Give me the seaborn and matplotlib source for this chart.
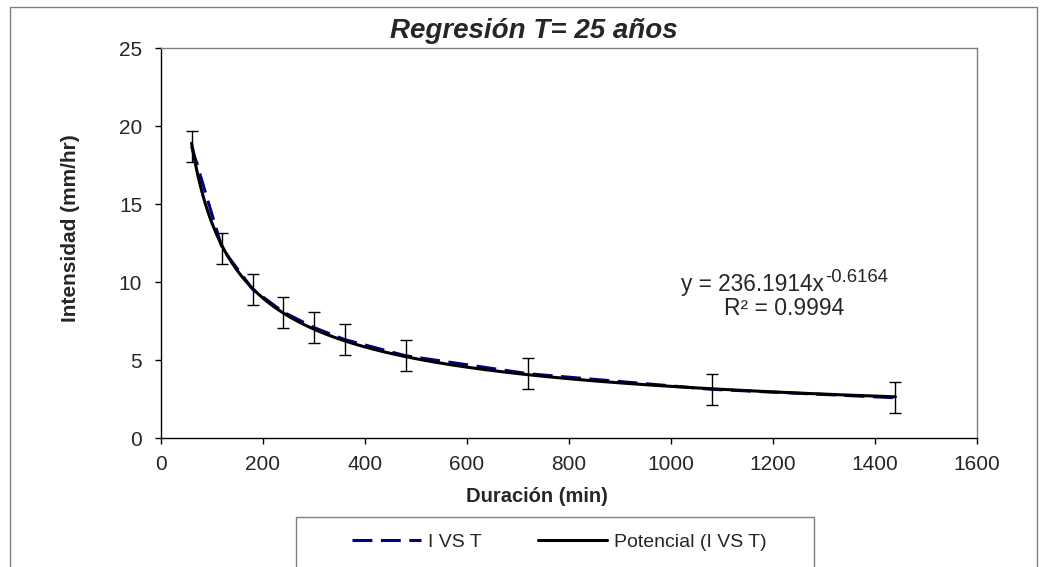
import numpy as np
import pandas as pd
import matplotlib
matplotlib.use("Agg")
import matplotlib.pyplot as plt
import seaborn as sns
from matplotlib.patches import Rectangle

duracion = [60, 120, 180, 240, 300, 360, 480, 720, 1080, 1440]
intensidad = [18.7, 12.15, 9.52, 8.07, 7.08, 6.31, 5.27, 4.12, 3.12, 2.58]
error = [1, 1, 1, 1, 1, 1, 1, 1, 1, 1]
x_ticks = [0, 200, 400, 600, 800, 1000, 1200, 1400, 1600]
y_ticks = [0, 5, 10, 15, 20, 25]
ec_base = "y = 236.1914x"
ec_exp = "-0.6164"
ec_r2 = "R² = 0.9994"

sns.set_style("white")
plt.rcParams['font.family'] = ['Liberation Sans', 'DejaVu Sans']

df = pd.DataFrame({"Duracion": duracion, "Intensidad": intensidad})

# ajuste potencial (lineal en log-log)
b, ln_a = np.polyfit(np.log(df.Duracion), np.log(df.Intensidad), 1)
xf = np.linspace(min(duracion), max(duracion), 300)
fit = pd.DataFrame({"Duracion": xf, "Intensidad": np.exp(ln_a) * xf ** b})

W, H = 1045, 567
fig = plt.figure(figsize=(W/100, H/100), dpi=100)
ax = fig.add_axes([161/W, 1-438/H, (977-161)/W, (438-48)/H])

ax.errorbar(df.Duracion, df.Intensidad, yerr=error, fmt='none', ecolor='black',
            elinewidth=1, capsize=4.5, capthick=1, zorder=2)
sns.lineplot(data=df, x="Duracion", y="Intensidad", ax=ax, color='#000080',
             linestyle=(0, (6.5, 2.8)), linewidth=2.2, label="I VS T", zorder=3)
sns.lineplot(data=fit, x="Duracion", y="Intensidad", ax=ax, color='black',
             linewidth=2.2, label="Potencial (I VS T)", zorder=4)

ax.set_xlim(0, 1600)
ax.set_ylim(0, 25)
ax.set_xticks(x_ticks)
ax.set_yticks(y_ticks)
ax.tick_params(labelsize=15, length=4.5, width=1, direction='out', color='black',
               left=True, bottom=True)
ax.tick_params(axis='x', pad=8)
ax.tick_params(axis='y', pad=9)
for s in ['left', 'bottom']:
    ax.spines[s].set_color('black')
    ax.spines[s].set_linewidth(1)
for s in ['top', 'right']:
    ax.spines[s].set_color('#808080')
    ax.spines[s].set_linewidth(1)

ax.set_xlabel("")
ax.set_ylabel("")
fig.text(537/W, 1-496/H, "Duración (min)", fontsize=14.5, fontweight='bold',
         ha='center', va='center')
fig.text(70/W, 1-228/H, "Intensidad (mm/hr)", fontsize=15, fontweight='bold',
         ha='center', va='center', rotation=90)
fig.text(534/W, 1-31/H, "Regresión T= 25 años", fontsize=20, fontweight='bold',
         style='italic', ha='center', va='center')

# etiqueta de la línea de tendencia
fig.text(824/W, 1-291/H, ec_base, fontsize=16.3, ha='right', va='baseline')
fig.text(825/W, 1-282/H, ec_exp, fontsize=13.3, ha='left', va='baseline')
fig.text(784/W, 1-315/H, ec_r2, fontsize=16.5, ha='center', va='baseline')

ax.get_legend().remove()
h, l = ax.get_legend_handles_labels()
fig.legend(h, l, ncol=2, loc='center', bbox_to_anchor=(559/W, 1-542/H),
           frameon=False, fontsize=14, handlelength=3.55, handletextpad=0.36,
           columnspacing=2.9)

fig.patches.append(Rectangle((296/W, -0.05), (814-296)/W, 0.05+1-517/H,
                             transform=fig.transFigure, fill=False,
                             edgecolor='#808080', linewidth=1))
fig.patches.append(Rectangle((10/W, -0.05), (1037-10)/W, 0.05+1-7/H,
                             transform=fig.transFigure, fill=False,
                             edgecolor='#808080', linewidth=1))

fig.savefig("out.png", dpi=100)
